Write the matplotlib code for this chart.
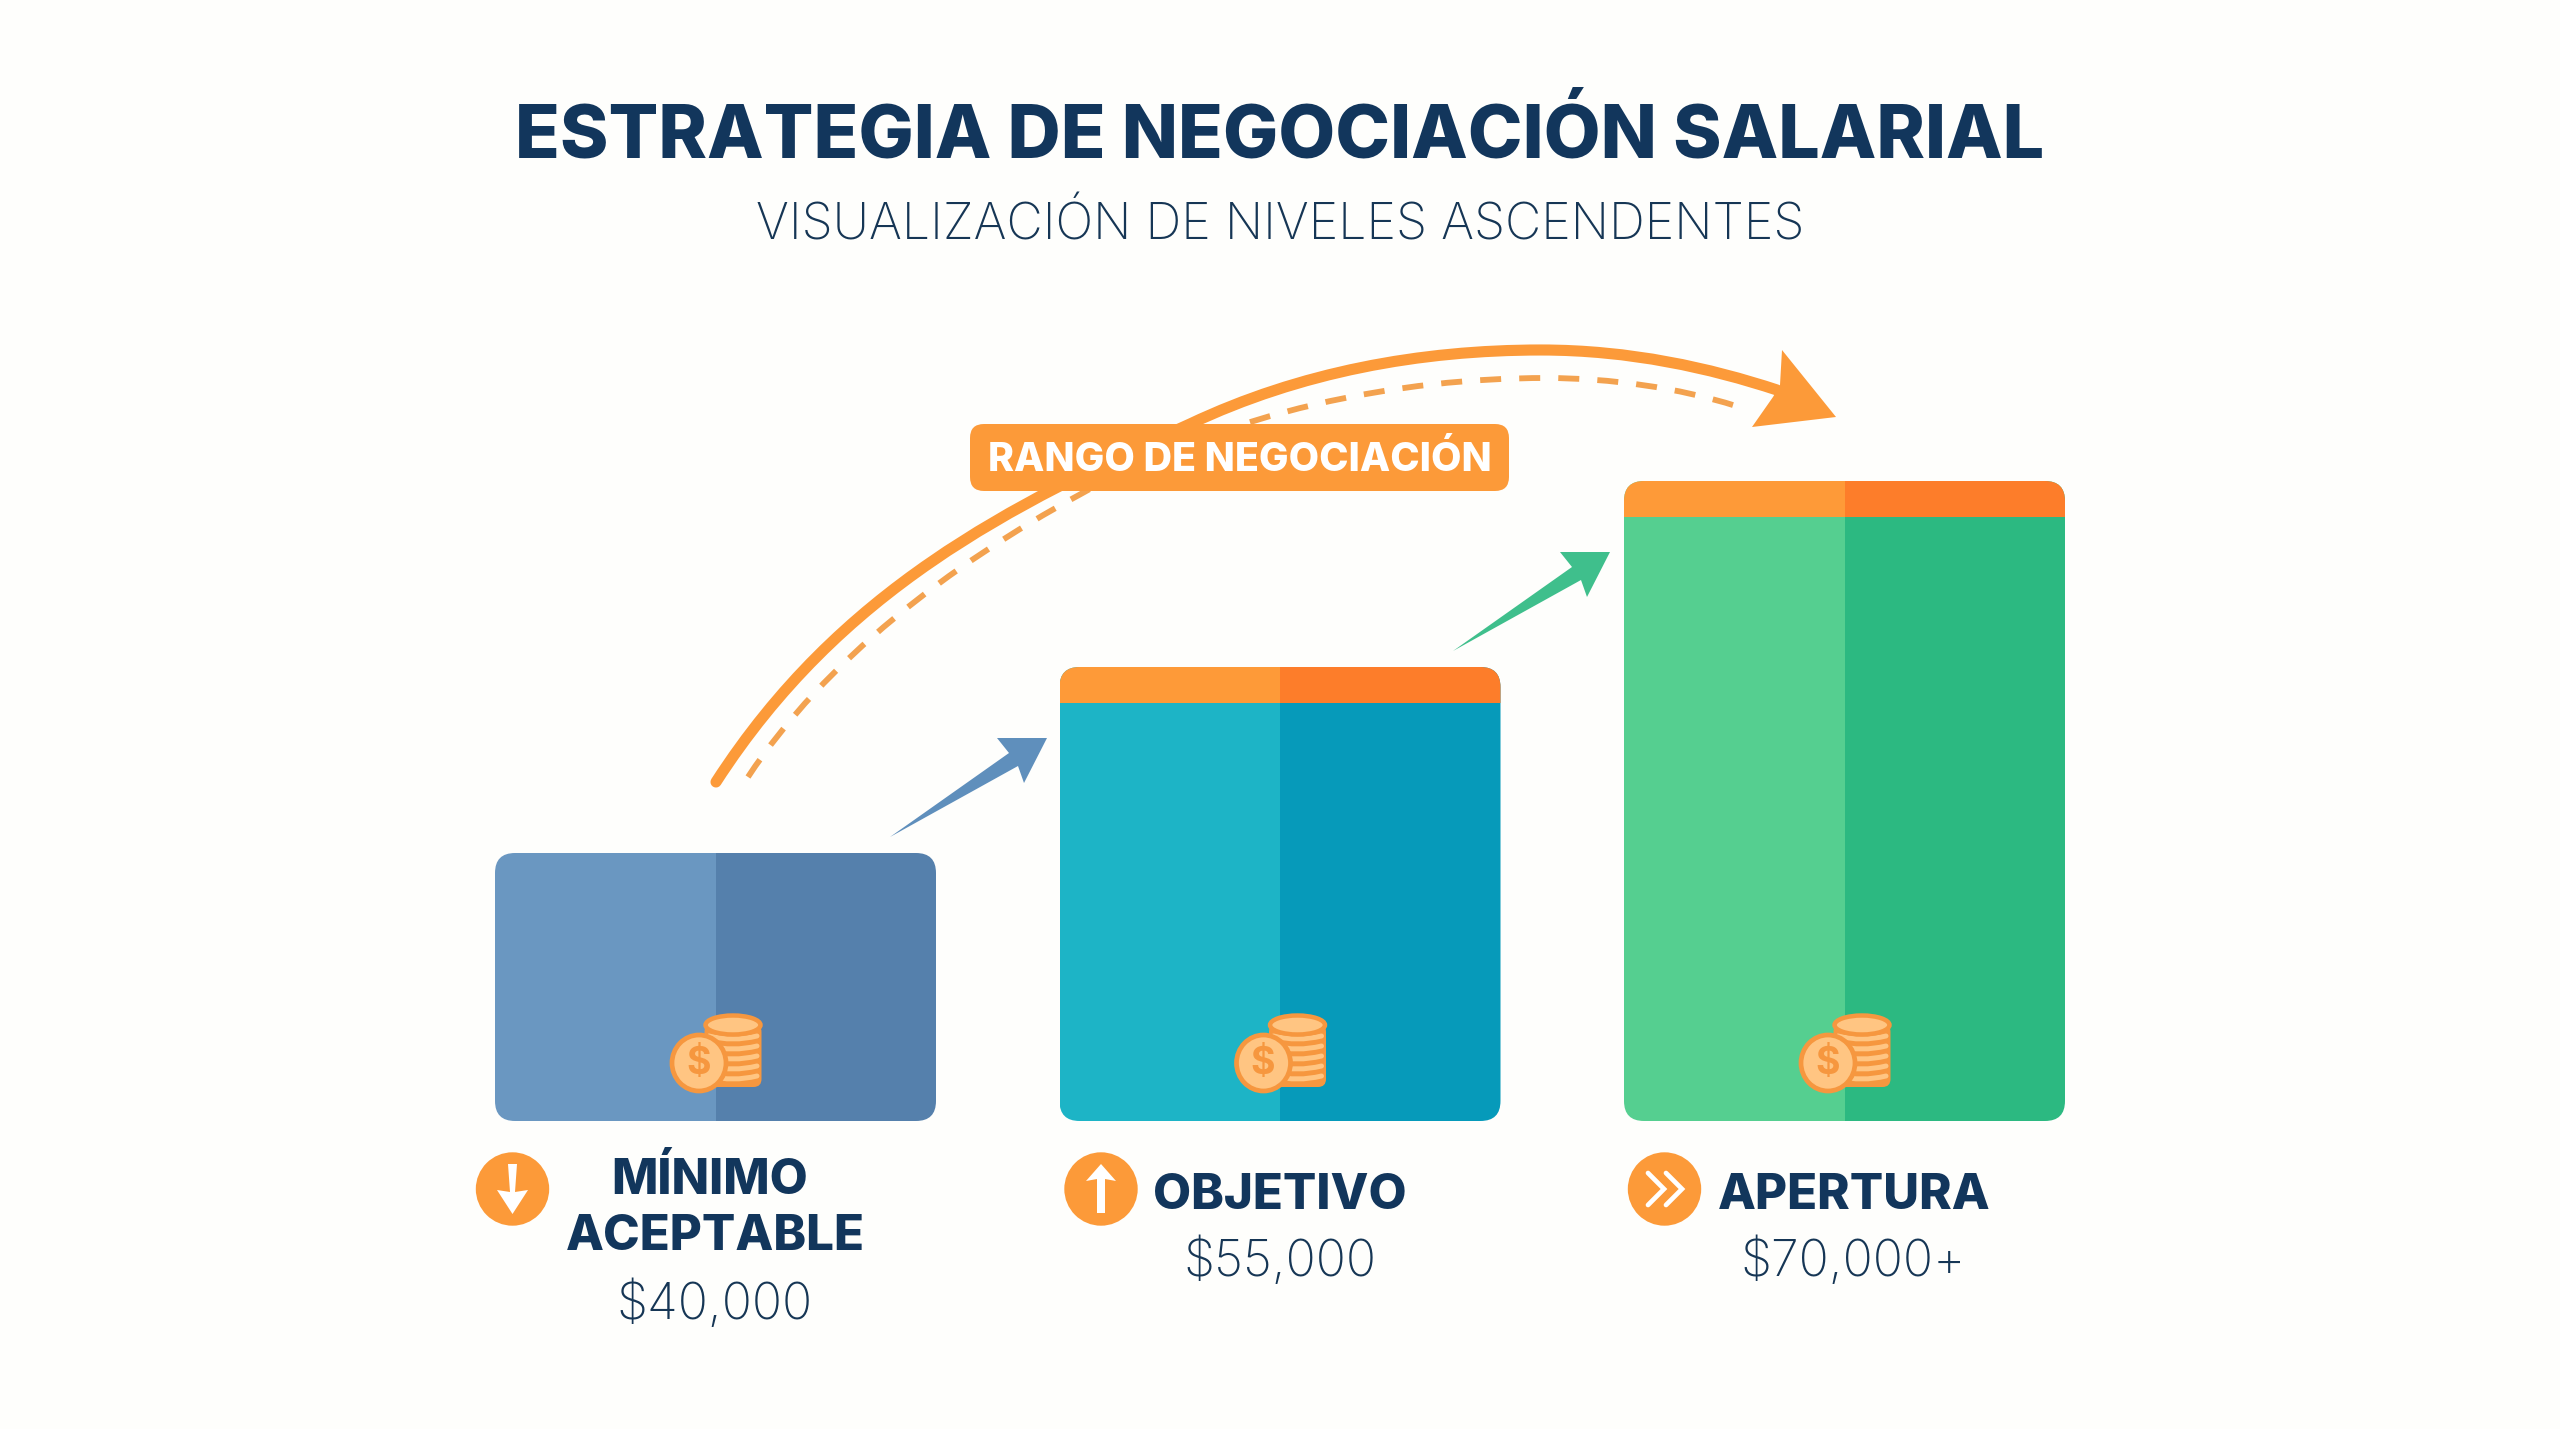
import matplotlib
matplotlib.use("Agg")
import matplotlib.pyplot as plt
from matplotlib.patches import FancyBboxPatch, Circle, Ellipse, Polygon, PathPatch
from matplotlib.path import Path

# data
categories = ["MÍNIMO\nACEPTABLE", "OBJETIVO", "APERTURA"]
salaries = [40000, 55000, 70000]
salary_labels = ["$40,000", "$55,000", "$70,000+"]
title = "ESTRATEGIA DE NEGOCIACIÓN SALARIAL"
subtitle = "VISUALIZACIÓN DE NIVELES ASCENDENTES"
range_label = "RANGO DE NEGOCIACIÓN"

left_colors = ["#6A97C1", "#1DB4C6", "#55CF90"]
right_colors = ["#5580AC", "#069ABA", "#2CB981"]
cap_left = "#FE9A38"
cap_right = "#FD7D2A"
navy = "#12365C"
orange = "#FC9A39"
coin_edge = "#F6973F"
coin_fill = "#FFC582"
W, H = 2560, 1429

fig = plt.figure(figsize=(W / 100, H / 100), dpi=100, facecolor="#FEFEFC")

# bars live on their own axes: the y scale is salary
base_y, top_y = 1121, 481
ax = fig.add_axes([0, (H - base_y) / H, 1, (base_y - top_y) / H])
ax.set_xlim(-715.5 / 564.5, (W - 715.5) / 564.5)
ax.set_ylim(18387, 70000)
ax.axis("off")
xpx = W / (ax.get_xlim()[1] - ax.get_xlim()[0])
ypx = (base_y - top_y) / (ax.get_ylim()[1] - ax.get_ylim()[0])
bw = 441 / 564.5
cap = 36 / ypx
ybase = ax.get_ylim()[0]
for i, v in enumerate(salaries):
    clip = FancyBboxPatch((i - bw / 2, ybase), bw, v - ybase, boxstyle="round,pad=0,rounding_size=%f" % (20 / xpx),
                          mutation_aspect=xpx / ypx, fc="none", ec="none")
    ax.add_patch(clip)
    parts = [ax.bar(i - bw / 4, v - ybase, bw / 2, bottom=ybase, color=left_colors[i]),
             ax.bar(i + bw / 4, v - ybase, bw / 2, bottom=ybase, color=right_colors[i])]
    if i > 0:
        parts.append(ax.bar(i - bw / 4, cap, bw / 2, bottom=v - cap, color=cap_left))
        parts.append(ax.bar(i + bw / 4, cap, bw / 2, bottom=v - cap, color=cap_right))
    for p in parts:
        for r in p:
            r.set_clip_path(clip)

# everything else on a pixel overlay
ov = fig.add_axes([0, 0, 1, 1], zorder=5)
ov.set_xlim(0, W)
ov.set_ylim(H, 0)
ov.axis("off")
ov.patch.set_alpha(0)

C4 = Path.CURVE4
main_curve = Path([(716, 782), (840, 590), (1010, 505), (1190, 424), (1300, 372), (1420, 350), (1541, 350),
                   (1630, 350), (1710, 368), (1777, 390)],
                  [Path.MOVETO] + [C4] * 9)
dash_curve = Path([(748, 777), (825, 660), (950, 565), (1079, 495), (1230, 410), (1400, 378), (1546, 378),
                   (1610, 378), (1680, 388), (1736, 406)],
                  [Path.MOVETO] + [C4] * 9)
ov.add_patch(PathPatch(main_curve, fc="none", ec=orange, lw=8, capstyle="round"))
ov.add_patch(PathPatch(dash_curve, fc="none", ec="#F3A24F", lw=4.2, ls=(0, (3.6, 3.1))))
ov.add_patch(Polygon([(1836, 417), (1782, 350), (1780, 385), (1773, 397), (1752, 427)], fc=orange, ec="none"))

ov.add_patch(FancyBboxPatch((970, 424), 539, 67, boxstyle="round,pad=0,rounding_size=14", fc=orange, ec="none", zorder=3))
ov.text(1240, 471, range_label, color="white", fontsize=28.4, fontweight=800, family="Inter", ha="center", va="baseline", zorder=4)

# small arrows between bars
for dx, dy, col in [(0, 0, "#5F8FBC"), (563, -186, "#3FBF8C")]:
    pts = [(890, 837), (1009, 753), (997, 738), (1047, 738), (1024, 783), (1018, 766)]
    ov.add_patch(Polygon([(x + dx, y + dy) for x, y in pts], fc=col, ec="none"))


# coins
def coins(cx):
    sx = cx + 17.5
    ov.add_patch(FancyBboxPatch((sx - 28.5, 1024), 57, 63, boxstyle="round,pad=0,rounding_size=8", fc=coin_edge, ec="none"))
    for y in [1036, 1046, 1056, 1066, 1076]:
        stripe = Path([(sx - 24, y), (sx, y + 6), (sx + 24, y)], [Path.MOVETO, Path.CURVE3, Path.CURVE3])
        ov.add_patch(PathPatch(stripe, fc="none", ec=coin_fill, lw=3.6, capstyle="round"))
    ov.add_patch(Ellipse((sx, 1025), 55, 19, fc=coin_fill, ec=coin_edge, lw=3.2))
    ov.add_patch(Ellipse((cx - 16.5, 1063), 54, 56, fc=coin_fill, ec=coin_edge, lw=3.4))
    ov.text(cx - 17, 1064, "$", color=coin_edge, fontsize=27, fontweight="bold", family="Inter", ha="center", va="center")


for cx in [715.5, 1280, 1844.5]:
    coins(cx)

# round icons
for cx in [512.5, 1101, 1664.5]:
    ov.add_patch(Circle((cx, 1189), 36.7, fc=orange, ec="none"))
ov.add_patch(Polygon([(508, 1164), (517, 1164), (515, 1192), (528, 1190), (512.5, 1214), (497, 1190), (510, 1192)], fc="white", ec="none"))
ov.add_patch(Polygon([(1101, 1164), (1116, 1181), (1105, 1179), (1105, 1213), (1097, 1213), (1097, 1179), (1086, 1181)], fc="white", ec="none"))
for x0 in [1648, 1666]:
    ov.plot([x0, x0 + 16, x0], [1173, 1189, 1205], color="white", lw=3.4, solid_joinstyle="miter", solid_capstyle="round")

# text
ov.text(1280, 157, title, color=navy, fontsize=53, fontweight=800, family="Inter", ha="center", va="baseline")
ov.text(1280, 239, subtitle, color="#163655", fontsize=36, fontweight="light", family="Inter", ha="center", va="baseline")
first, second = categories[0].split("\n")
ov.text(710, 1194, first, color=navy, fontsize=35.5, fontweight=800, family="Inter", ha="center", va="baseline")
ov.text(715, 1250, second, color=navy, fontsize=35.5, fontweight=800, family="Inter", ha="center", va="baseline")
ov.text(1280, 1209, categories[1], color=navy, fontsize=35.5, fontweight=800, family="Inter", ha="center", va="baseline")
ov.text(1854, 1209, categories[2], color=navy, fontsize=35.5, fontweight=800, family="Inter", ha="center", va="baseline")
for x, y, s in zip([714, 1280, 1853], [1319, 1276, 1276], salary_labels):
    ov.text(x, y, s, color="#163655", fontsize=36, fontweight="light", family="Inter", ha="center", va="baseline")

fig.savefig("out.png", dpi=100, facecolor=fig.get_facecolor())
